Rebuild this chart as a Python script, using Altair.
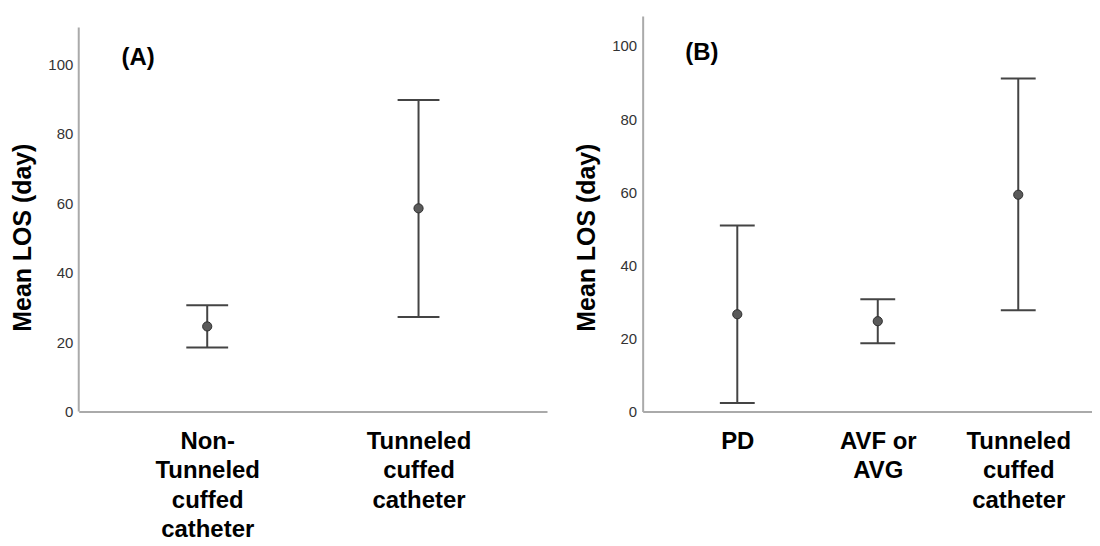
import altair as alt
import pandas as pd

# ---------------- data ----------------
cats_a = ["Non-\nTunneled\ncuffed\ncatheter", "Tunneled\ncuffed\ncatheter"]
mean_a = [24.5, 58.5]
lower_a = [18.4, 27.2]
upper_a = [30.6, 89.7]

cats_b = ["PD", "AVF or\nAVG", "Tunneled\ncuffed\ncatheter"]
mean_b = [26.6, 24.7, 59.3]
lower_b = [2.3, 18.7, 27.7]
upper_b = [50.9, 30.7, 91.1]

y_ticks = [0, 20, 40, 60, 80, 100]
axis_top_a = 110.6

BOLD = "Liberation Sans, Arial, sans-serif"
NARROW = "Liberation Sans Narrow, Arial Narrow, Liberation Sans, sans-serif"
LINE = "#444444"
AXIS = "#aaaaaa"


def panel(cats, mean, lo, hi, tag, width, height, ymax, pad, align, cap,
          tag_x, tag_y, draw_domain=True, axis_top=None):
    df = pd.DataFrame({"cat": cats, "mean": mean, "lo": lo, "hi": hi})
    xscale = alt.Scale(type="point", padding=pad, align=align)
    xaxis = alt.Axis(
        title=None, labelExpr="split(datum.label, '\\n')", labelAngle=0,
        labelFont=BOLD, labelFontSize=24, labelFontWeight="bold",
        labelColor="black", labelLineHeight=29.5, labelBaseline="top",
        labelPadding=18, ticks=False, domainColor=AXIS, domainWidth=2,
    )
    yscale = alt.Scale(domain=[0, ymax], nice=False, zero=True)
    yaxis = alt.Axis(
        title="Mean LOS (day)", values=y_ticks, grid=False, ticks=False,
        labelFont=NARROW, labelFontSize=15, labelColor="#333333",
        labelPadding=6, domain=draw_domain, domainColor=AXIS, domainWidth=2,
        titleFont=BOLD, titleFontSize=25, titleFontWeight="bold",
        titleColor="black", titlePadding=12, titleY=222,
    )
    x = alt.X("cat:N", sort=cats, scale=xscale, axis=xaxis)
    base = alt.Chart(df)
    bars = base.mark_rule(color=LINE, strokeWidth=2).encode(
        x=x, y=alt.Y("lo:Q", scale=yscale, axis=yaxis), y2="hi:Q")
    cap_lo = base.mark_tick(orient="horizontal", size=cap, thickness=2,
                            color=LINE, opacity=1).encode(
        x=alt.X("cat:N", sort=cats), y="lo:Q")
    cap_hi = base.mark_tick(orient="horizontal", size=cap, thickness=2,
                            color=LINE, opacity=1).encode(
        x=alt.X("cat:N", sort=cats), y="hi:Q")
    pts = base.mark_circle(size=85, color="#5a5a5a", stroke="#2e2e2e",
                           strokeWidth=1, opacity=1).encode(
        x=alt.X("cat:N", sort=cats), y="mean:Q")
    label = alt.Chart(pd.DataFrame({"t": [tag]})).mark_text(
        font=BOLD, fontSize=24, fontWeight="bold", color="black",
        align="center", baseline="middle").encode(
        x=alt.value(tag_x), y=alt.value(tag_y), text="t:N")
    layers = [bars, cap_lo, cap_hi, pts, label]
    if axis_top is not None:
        dom = alt.Chart(pd.DataFrame({"a": [0], "b": [axis_top]})).mark_rule(
            color=AXIS, strokeWidth=2).encode(
            x=alt.value(0), y=alt.Y("a:Q", scale=yscale), y2="b:Q")
        layers = [dom] + layers
    return alt.layer(*layers).properties(width=width, height=height)


pa = panel(cats_a, mean_a, lower_a, upper_a, "(A)", 470, 397, 113.9,
           0.608, 0.5, 42, 59.5, 42, draw_domain=False, axis_top=axis_top_a)
pb = panel(cats_b, mean_b, lower_b, upper_b, "(B)", 451, 397, 108.2,
           0.5993, 0.562, 35, 59.5, 37)

chart = alt.hconcat(pa, pb, spacing=27).properties(
    padding={"left": 2, "top": 7, "right": 0, "bottom": 0},
    background="white",
).configure_view(strokeWidth=0, stroke="transparent")

chart.save("out.html", embed_options={"renderer": "svg", "actions": False})
